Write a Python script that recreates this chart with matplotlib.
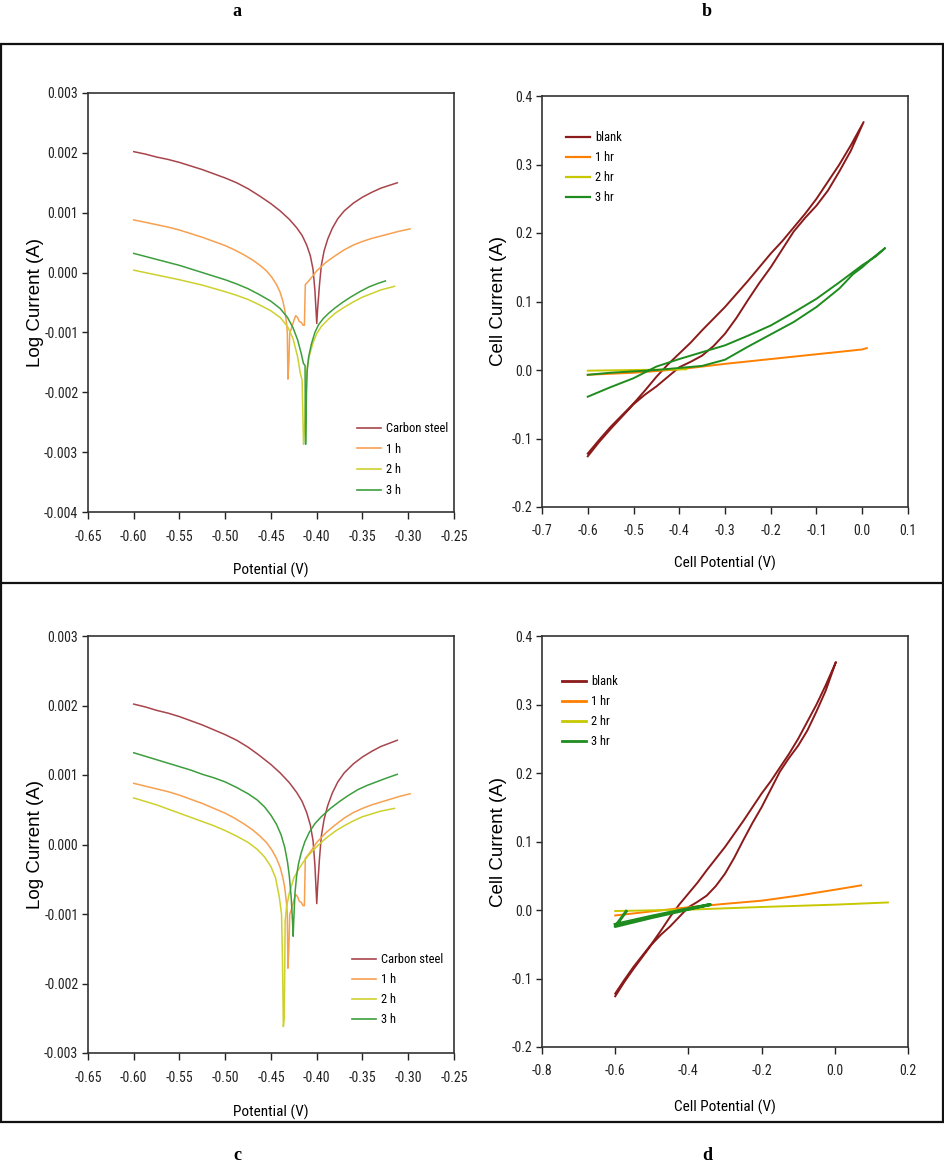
import matplotlib
matplotlib.use("Agg")
import matplotlib.pyplot as plt
from matplotlib.lines import Line2D
from matplotlib.patches import Rectangle

# ---------------- data ----------------
# Panels a and c : Tafel plots
CS_X = [-0.600, -0.5875, -0.575, -0.5625, -0.550, -0.5375, -0.525, -0.5125, -0.500, -0.4875, -0.475,
        -0.4625, -0.450, -0.440, -0.430, -0.422, -0.416, -0.411, -0.407, -0.404, -0.402, -0.400,
        -0.399, -0.397, -0.395, -0.392, -0.388, -0.383, -0.377, -0.370, -0.360, -0.350, -0.340,
        -0.330, -0.320, -0.312]
CS_Y = [0.00202, 0.00198, 0.00193, 0.00189, 0.00184, 0.00178, 0.00172, 0.00165, 0.00158, 0.00150,
        0.00140, 0.00128, 0.00115, 0.00103, 0.00089, 0.00075, 0.00062, 0.00046, 0.00028, 0.00005,
        -0.00030, -0.00085, -0.00060, -0.00020, 0.00012, 0.00036, 0.00056, 0.00074, 0.00090,
        0.00103, 0.00116, 0.00126, 0.00134, 0.00141, 0.00146, 0.00150]

H1_X = [-0.600, -0.5875, -0.575, -0.5625, -0.550, -0.5375, -0.525, -0.5125, -0.500, -0.490, -0.480,
        -0.470, -0.462, -0.455, -0.449, -0.444, -0.440, -0.437, -0.435, -0.433, -0.4322, -0.4315,
        -0.4305, -0.4295, -0.428, -0.425, -0.423, -0.421, -0.419, -0.417, -0.415, -0.4135, -0.4125,
        -0.410, -0.405, -0.400, -0.395, -0.390, -0.380, -0.370, -0.360, -0.350, -0.340, -0.330,
        -0.320, -0.310, -0.298]
H1_Y = [0.00088, 0.00084, 0.00080, 0.00076, 0.00071, 0.00065, 0.00059, 0.00052, 0.00045, 0.00038,
        0.00030, 0.00021, 0.00012, 0.00003, -0.00008, -0.00020, -0.00033, -0.00048, -0.00062,
        -0.00085, -0.00100, -0.00178, -0.00150, -0.00100, -0.00095, -0.00080, -0.00072, -0.00075,
        -0.00082, -0.00083, -0.00088, -0.00088, -0.00020, -0.00016, -0.00007, 0.00003, 0.00010,
        0.00017, 0.00028, 0.00038, 0.00046, 0.00052, 0.00057, 0.00061, 0.00065, 0.00069, 0.00073]

A_H2_X = [-0.600, -0.575, -0.550, -0.525, -0.500, -0.4875, -0.475, -0.4625, -0.450, -0.440, -0.432,
          -0.426, -0.421, -0.418, -0.416, -0.415, -0.4145, -0.413, -0.412, -0.4105, -0.408, -0.404,
          -0.400, -0.395, -0.388, -0.380, -0.370, -0.360, -0.350, -0.340, -0.330, -0.315]
A_H2_Y = [0.00004, -0.00004, -0.00012, -0.00021, -0.00032, -0.00038, -0.00045, -0.00054, -0.00064,
          -0.00075, -0.00090, -0.00110, -0.00140, -0.00168, -0.00180, -0.00250, -0.00287, -0.00250,
          -0.00190, -0.00160, -0.00138, -0.00117, -0.00102, -0.00090, -0.00079, -0.00068, -0.00058,
          -0.00049, -0.00041, -0.00035, -0.00029, -0.00023]

A_H3_X = [-0.600, -0.5875, -0.575, -0.5625, -0.550, -0.5375, -0.525, -0.5125, -0.500, -0.4875,
          -0.475, -0.4625, -0.450, -0.440, -0.432, -0.426, -0.421, -0.417, -0.4145, -0.4128, -0.4122,
          -0.4112, -0.4105, -0.409, -0.406, -0.402, -0.398, -0.393, -0.387, -0.380, -0.372, -0.363,
          -0.353, -0.343, -0.333, -0.325]
A_H3_Y = [0.00032, 0.00027, 0.00022, 0.00017, 0.00012, 0.00006, 0.00000, -0.00006, -0.00012,
          -0.00019, -0.00027, -0.00037, -0.00048, -0.00060, -0.00075, -0.00092, -0.00112, -0.00135,
          -0.00152, -0.00155, -0.00287, -0.00200, -0.00165, -0.00142, -0.00120, -0.00100, -0.00087,
          -0.00077, -0.00068, -0.00059, -0.00050, -0.00041, -0.00032, -0.00024, -0.00018, -0.00014]

C_H2_X = [-0.600, -0.5875, -0.575, -0.5625, -0.550, -0.5375, -0.525, -0.5125, -0.500, -0.4875,
          -0.475, -0.465, -0.457, -0.450, -0.445, -0.441, -0.4385, -0.4375, -0.4365, -0.4355,
          -0.4345, -0.433, -0.430, -0.425, -0.420, -0.415, -0.410, -0.400, -0.390, -0.380, -0.370,
          -0.360, -0.350, -0.340, -0.330, -0.315]
C_H2_Y = [0.00067, 0.00062, 0.00057, 0.00051, 0.00045, 0.00039, 0.00033, 0.00027, 0.00020, 0.00012,
          0.00003, -0.00007, -0.00018, -0.00032, -0.00048, -0.00075, -0.00100, -0.00160, -0.00262,
          -0.00250, -0.00110, -0.00090, -0.00070, -0.00048, -0.00036, -0.00026, -0.00017, -0.00003,
          0.00009, 0.00019, 0.00027, 0.00034, 0.00040, 0.00044, 0.00048, 0.00052]

C_H3_X = [-0.600, -0.5875, -0.575, -0.5625, -0.550, -0.5375, -0.525, -0.5125, -0.500, -0.4875,
          -0.475, -0.465, -0.457, -0.450, -0.444, -0.439, -0.435, -0.432, -0.430, -0.428, -0.4265,
          -0.4258, -0.4250, -0.4238, -0.422, -0.420, -0.417, -0.413, -0.408, -0.402, -0.395, -0.385,
          -0.375, -0.365, -0.355, -0.345, -0.335, -0.325, -0.312]
C_H3_Y = [0.00132, 0.00127, 0.00122, 0.00117, 0.00112, 0.00107, 0.00101, 0.00096, 0.00090, 0.00082,
          0.00073, 0.00064, 0.00054, 0.00042, 0.00029, 0.00014, -0.00004, -0.00025, -0.00045,
          -0.00075, -0.00110, -0.00132, -0.00105, -0.00070, -0.00045, -0.00028, -0.00012, 0.00004,
          0.00018, 0.00030, 0.00040, 0.00052, 0.00062, 0.00071, 0.00079, 0.00085, 0.00090, 0.00095,
          0.00101]

TAFEL_LABELS = ["Carbon steel", "1 h", "2 h", "3 h"]

# Panels b and d : cyclic current-potential curves
BLANK_X = [-0.600, -0.575, -0.550, -0.525, -0.500, -0.475, -0.450, -0.425, -0.400, -0.375, -0.350,
           -0.325, -0.300, -0.275, -0.250, -0.225, -0.200, -0.175, -0.150, -0.125, -0.100, -0.075,
           -0.050, -0.025, 0.003,
           -0.025, -0.050, -0.075, -0.100, -0.125, -0.150, -0.175, -0.200, -0.225, -0.250, -0.275,
           -0.300, -0.325, -0.350, -0.375, -0.400, -0.425, -0.450, -0.475, -0.500, -0.525, -0.550,
           -0.575, -0.600]
BLANK_Y = [-0.126, -0.105, -0.086, -0.068, -0.050, -0.036, -0.024, -0.010, 0.004, 0.012, 0.021,
           0.035, 0.053, 0.076, 0.102, 0.127, 0.150, 0.176, 0.202, 0.222, 0.240, 0.262, 0.290, 0.320,
           0.362,
           0.328, 0.300, 0.275, 0.250, 0.228, 0.208, 0.188, 0.170, 0.150, 0.130, 0.111, 0.092, 0.075,
           0.058, 0.040, 0.024, 0.008, -0.010, -0.030, -0.049, -0.066, -0.083, -0.102, -0.122]

B_HR1_X = [-0.60, -0.50, -0.40, -0.30, -0.20, -0.10, 0.00, 0.01]
B_HR1_Y = [-0.007, -0.004, 0.001, 0.009, 0.016, 0.023, 0.030, 0.032]
B_HR2_X = [-0.60, -0.50, -0.385]
B_HR2_Y = [-0.001, 0.000, 0.001]
B_HR3_X = [-0.60, -0.55, -0.50, -0.45, -0.40, -0.35, -0.30, -0.25, -0.20, -0.15, -0.10, -0.05, -0.02,
           0.00, 0.02, 0.035, 0.05,
           0.03, 0.00, -0.05, -0.10, -0.15, -0.20, -0.25, -0.30, -0.35, -0.40, -0.45, -0.50, -0.55, -0.60]
B_HR3_Y = [-0.007, -0.004, -0.002, 0.000, 0.003, 0.006, 0.015, 0.034, 0.052, 0.070, 0.092, 0.119, 0.140,
           0.150, 0.162, 0.170, 0.178,
           0.166, 0.153, 0.128, 0.104, 0.084, 0.065, 0.050, 0.036, 0.026, 0.016, 0.005, -0.012, -0.025, -0.039]

D_HR1_X = [-0.60, -0.50, -0.40, -0.30, -0.20, -0.10, 0.00, 0.072]
D_HR1_Y = [-0.008, -0.002, 0.004, 0.009, 0.0136, 0.021, 0.0296, 0.036]
D_HR2_X = [-0.60, -0.40, -0.20, 0.00, 0.145]
D_HR2_Y = [-0.0015, 0.0005, 0.0044, 0.0078, 0.011]
D_HR3_X = [-0.570, -0.600, -0.500, -0.400, -0.340, -0.400, -0.500, -0.600]
D_HR3_Y = [-0.002, -0.024, -0.011, 0.001, 0.008, 0.002, -0.009, -0.021]

CV_LABELS = ["blank", "1 hr", "2 hr", "3 hr"]

# ---------------- styling ----------------
W, H = 945, 1166
NARROW = ["Liberation Sans Narrow", "Roboto Condensed", "Liberation Sans", "DejaVu Sans"]
WIDE = ["Liberation Sans", "DejaVu Sans"]
SERIF = ["Liberation Serif", "DejaVu Serif"]

TAFEL_COLORS = ["#A8444C", "#F7A050", "#CDD12E", "#3D9E3D"]
CV_COLORS = ["#8B1A1A", "#FF8000", "#C8C800", "#1E8C1E"]

fig = plt.figure(figsize=(W / 100, H / 100), dpi=100)


def rect(l, t, r, b):
    return [l / W, 1 - b / H, (r - l) / W, (b - t) / H]


def style_axes(ax, xlim, ylim, xticks, yticks, xfmt, yfmt, xpad, ypad):
    ax.set_xlim(*xlim)
    ax.set_ylim(*ylim)
    ax.set_xticks(xticks)
    ax.set_yticks(yticks)
    ax.set_xticklabels([xfmt % v for v in xticks], family=NARROW, fontsize=10)
    ax.set_yticklabels([yfmt % v for v in yticks], family=NARROW, fontsize=10)
    ax.tick_params(axis="x", direction="out", length=5, width=1, pad=xpad, colors="#222222")
    ax.tick_params(axis="y", direction="out", length=4, width=1, pad=ypad, colors="#222222")
    for s in ax.spines.values():
        s.set_linewidth(1.2)
        s.set_color("#333333")


def legend(ax, handles_colors, labels, anchor, lw, spacing):
    handles = [Line2D([], [], color=c, lw=lw) for c in handles_colors]
    leg = ax.legend(handles, labels, loc="upper left", bbox_to_anchor=anchor, frameon=False,
                    borderpad=0, borderaxespad=0, handlelength=1.9, handletextpad=0.4,
                    labelspacing=spacing, prop={"family": NARROW, "size": 9})
    return leg


# ---- panel a ----
axa = fig.add_axes(rect(88, 93, 454, 512))
for x, y, c in zip([CS_X, H1_X, A_H2_X, A_H3_X], [CS_Y, H1_Y, A_H2_Y, A_H3_Y], TAFEL_COLORS):
    axa.plot(x, y, color=c, lw=1.1)
style_axes(axa, (-0.65, -0.25), (-0.004, 0.003),
           [-0.65, -0.60, -0.55, -0.50, -0.45, -0.40, -0.35, -0.30, -0.25],
           [-0.004, -0.003, -0.002, -0.001, 0.0, 0.001, 0.002, 0.003], "%.2f", "%.3f", 8, 3)
axa.set_ylabel("Log Current (A)", family=WIDE, fontsize=13.5)
axa.set_xlabel("Potential (V)", family=NARROW, fontsize=11)
axa.yaxis.set_label_coords(-0.12, 0.5)
axa.xaxis.set_label_coords(0.5, -0.122)
legend(axa, TAFEL_COLORS, TAFEL_LABELS, (0.735, 0.215), 1.2, 0.62)

# ---- panel b ----
axb = fig.add_axes(rect(542, 96, 908, 507))
for x, y, c in zip([BLANK_X, B_HR1_X, B_HR2_X, B_HR3_X], [BLANK_Y, B_HR1_Y, B_HR2_Y, B_HR3_Y],
                   CV_COLORS):
    axb.plot(x, y, color=c, lw=1.4)
style_axes(axb, (-0.7, 0.1), (-0.2, 0.4),
           [-0.7, -0.6, -0.5, -0.4, -0.3, -0.2, -0.1, 0.0, 0.1],
           [-0.2, -0.1, 0.0, 0.1, 0.2, 0.3, 0.4], "%.1f", "%.1f", 7, 3)
axb.set_ylabel("Cell Current (A)", family=WIDE, fontsize=13.5)
axb.set_xlabel("Cell Potential (V)", family=NARROW, fontsize=11)
axb.yaxis.set_label_coords(-0.096, 0.5)
axb.xaxis.set_label_coords(0.5, -0.119)
legend(axb, CV_COLORS, CV_LABELS, (0.066, 0.914), 1.6, 0.56)

# ---- panel c ----
axc = fig.add_axes(rect(88, 636, 454, 1053))
for x, y, c in zip([CS_X, H1_X, C_H2_X, C_H3_X], [CS_Y, H1_Y, C_H2_Y, C_H3_Y], TAFEL_COLORS):
    axc.plot(x, y, color=c, lw=1.1)
style_axes(axc, (-0.65, -0.25), (-0.003, 0.003),
           [-0.65, -0.60, -0.55, -0.50, -0.45, -0.40, -0.35, -0.30, -0.25],
           [-0.003, -0.002, -0.001, 0.0, 0.001, 0.002, 0.003], "%.2f", "%.3f", 8, 3)
axc.set_ylabel("Log Current (A)", family=WIDE, fontsize=13.5)
axc.set_xlabel("Potential (V)", family=NARROW, fontsize=11)
axc.yaxis.set_label_coords(-0.12, 0.5)
axc.xaxis.set_label_coords(0.5, -0.125)
legend(axc, TAFEL_COLORS, TAFEL_LABELS, (0.721, 0.240), 1.2, 0.56)

# ---- panel d ----
axd = fig.add_axes(rect(542, 636, 908, 1047))
for x, y, c, lw in zip([BLANK_X, D_HR1_X, D_HR2_X, D_HR3_X], [BLANK_Y, D_HR1_Y, D_HR2_Y, D_HR3_Y],
                       CV_COLORS, [1.4, 1.4, 1.4, 2.2]):
    axd.plot(x, y, color=c, lw=lw)
style_axes(axd, (-0.8, 0.2), (-0.2, 0.4),
           [-0.8, -0.6, -0.4, -0.2, 0.0, 0.2],
           [-0.2, -0.1, 0.0, 0.1, 0.2, 0.3, 0.4], "%.1f", "%.1f", 7, 3)
axd.set_ylabel("Cell Current (A)", family=WIDE, fontsize=13.5)
axd.set_xlabel("Cell Potential (V)", family=NARROW, fontsize=11)
axd.yaxis.set_label_coords(-0.096, 0.5)
axd.xaxis.set_label_coords(0.5, -0.129)
legend(axd, CV_COLORS, CV_LABELS, (0.055, 0.904), 2.0, 0.56)

# ---- frame, divider and panel letters ----
fig.patches.append(Rectangle((1.5 / W, 1 - 1122 / H), 941.5 / W, (1122 - 44) / H,
                             transform=fig.transFigure, fill=False, lw=1.6, ec="#111111"))
fig.add_artist(Line2D([1.5 / W, 943 / W], [1 - 583 / H, 1 - 583 / H], transform=fig.transFigure,
                      lw=1.6, color="#111111"))
for txt, x, y in [("a", 237, 12), ("b", 707, 12), ("c", 237, 1155), ("d", 707, 1155)]:
    fig.text(x / W, 1 - y / H, txt, family=SERIF, fontweight="bold", fontsize=13,
             ha="center", va="center")

fig.savefig("out.png", dpi=100)
